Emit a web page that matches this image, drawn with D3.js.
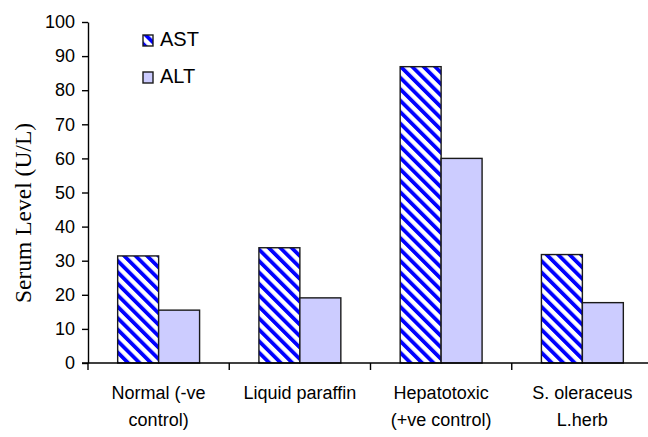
<!DOCTYPE html>
<html>
<head>
<meta charset="utf-8">
<script src="https://cdn.jsdelivr.net/npm/d3@7/dist/d3.min.js"></script>
<style>
  html, body { margin: 0; padding: 0; background: #fff; }
  svg { display: block; }
</style>
</head>
<body>
<svg id="chart" width="648" height="437"></svg>
<script>
const categories = [["Normal (-ve", "control)"], ["Liquid paraffin"], ["Hepatotoxic", "(+ve control)"], ["S. oleraceus", "L.herb"]];
const seriesNames = ["AST", "ALT"];
const astValues = [31.4, 33.8, 86.9, 31.8];
const altValues = [15.5, 19.1, 60.0, 17.7];
const yTicks = [0, 10, 20, 30, 40, 50, 60, 70, 80, 90, 100];

const svg = d3.select("#chart");
const catKeys = categories.map((c, i) => "c" + i);

const defs = svg.append("defs");
const pat = defs.append("pattern")
  .attr("id", "stripes")
  .attr("patternUnits", "userSpaceOnUse")
  .attr("width", 8.1).attr("height", 8.1)
  .attr("patternTransform", "rotate(-45)");
pat.append("rect").attr("width", 8.1).attr("height", 8.1).attr("fill", "#ffffff");
pat.append("rect").attr("width", 3.8).attr("height", 8.1).attr("fill", "#0000ff");

const fills = { AST: "url(#stripes)", ALT: "#ccccff" };

const plotLeft = 88, plotRight = 653, plotTop = 22, plotBottom = 363;

const y = d3.scaleLinear().domain([0, 100]).range([plotBottom, plotTop]);
const x0 = d3.scaleBand().domain(catKeys).range([plotLeft, plotRight]).paddingInner(0.42).paddingOuter(0.21);
const x1 = d3.scaleBand().domain(seriesNames).range([0, x0.bandwidth()]).padding(0);

const data = catKeys.map((k, i) => ({ key: k, AST: astValues[i], ALT: altValues[i] }));

// bars
const groups = svg.append("g").selectAll("g").data(data).join("g")
  .attr("transform", d => `translate(${x0(d.key)},0)`);
groups.selectAll("rect")
  .data(d => seriesNames.map(s => ({ s, v: d[s] })))
  .join("rect")
  .attr("x", d => x1(d.s))
  .attr("y", d => y(d.v))
  .attr("width", x1.bandwidth())
  .attr("height", d => y(0) - y(d.v))
  .attr("fill", d => fills[d.s])
  .attr("stroke", "#1a1a1a")
  .attr("stroke-width", 1.4);

// y axis
const yAxis = d3.axisLeft(y).tickValues(yTicks).tickSize(6).tickPadding(7).tickSizeOuter(0);
const gy = svg.append("g").attr("transform", `translate(${plotLeft},0)`).call(yAxis);
gy.select(".domain").attr("stroke", "#000").attr("stroke-width", 1.4);
gy.selectAll(".tick line").attr("stroke", "#000").attr("stroke-width", 1.4);
gy.selectAll(".tick text").attr("font-family", "Arial, 'Liberation Sans', sans-serif")
  .attr("font-size", 18).attr("fill", "#000");

// x axis line
const step = x0.step();
const edges = catKeys.map(k => x0(k) - x0.paddingOuter() * step).concat([plotRight]);
svg.append("line").attr("x1", plotLeft - 6).attr("x2", plotRight).attr("y1", plotBottom).attr("y2", plotBottom)
  .attr("stroke", "#000").attr("stroke-width", 1.4);
svg.append("g").selectAll("line").data(edges).join("line")
  .attr("x1", d => d).attr("x2", d => d)
  .attr("y1", plotBottom).attr("y2", plotBottom + 7)
  .attr("stroke", "#000").attr("stroke-width", 1.4);

// x labels
const xl = svg.append("g").selectAll("text").data(categories.map((c, i) => ({ lines: c, key: catKeys[i] }))).join("text")
  .attr("x", d => x0(d.key) + x0.bandwidth() / 2)
  .attr("y", 399)
  .attr("text-anchor", "middle")
  .attr("font-family", "Arial, 'Liberation Sans', sans-serif")
  .attr("font-size", 18)
  .attr("fill", "#000");
xl.selectAll("tspan").data(d => d.lines.map(l => ({ l, x: x0(d.key) + x0.bandwidth() / 2 }))).join("tspan")
  .attr("x", d => d.x)
  .attr("dy", (d, i) => i === 0 ? 0 : 27)
  .text(d => d.l);

// y title
svg.append("text")
  .attr("transform", "translate(31,213) rotate(-90)")
  .attr("text-anchor", "middle")
  .attr("font-family", "'Times New Roman', 'Liberation Serif', serif")
  .attr("font-size", 23.5)
  .attr("fill", "#000")
  .text("Serum Level (U/L)");

// legend
const legend = svg.append("g").selectAll("g").data(seriesNames).join("g")
  .attr("transform", (d, i) => `translate(143,${35 + i * 37})`);
legend.append("rect").attr("width", 10).attr("height", 11)
  .attr("fill", d => fills[d]).attr("stroke", "#1a1a1a").attr("stroke-width", 1.4);
legend.append("text").attr("x", 17).attr("y", 10.5)
  .attr("font-family", "Arial, 'Liberation Sans', sans-serif")
  .attr("font-size", 20).attr("fill", "#000")
  .text(d => d);
</script>
</body>
</html>
